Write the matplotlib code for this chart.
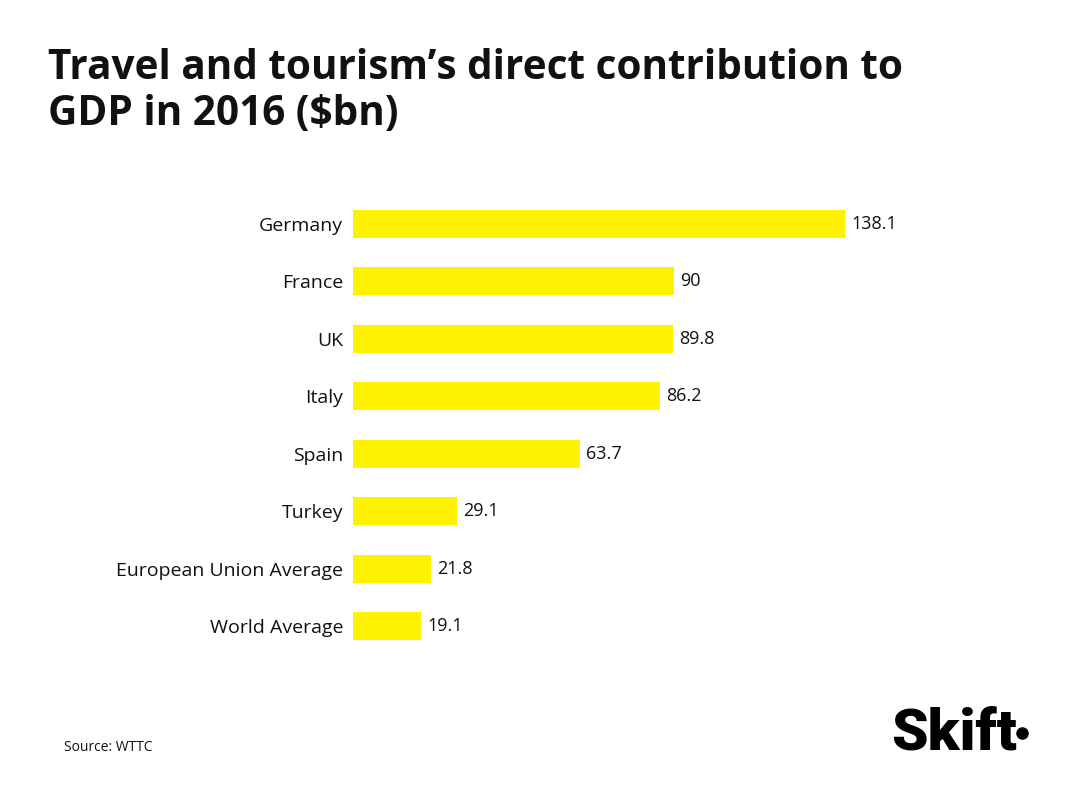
import matplotlib.pyplot as plt
from matplotlib.lines import Line2D

# Data
countries = ['Germany', 'France', 'UK', 'Italy', 'Spain', 'Turkey',
             'European Union Average', 'World Average']
values = [138.1, 90, 89.8, 86.2, 63.7, 29.1, 21.8, 19.1]
value_labels = ['138.1', '90', '89.8', '86.2', '63.7', '29.1', '21.8', '19.1']

plt.rcParams['font.family'] = ['Open Sans', 'DejaVu Sans']

fig = plt.figure(figsize=(10.67, 8), dpi=100)
fig.patch.set_facecolor('white')

ax = fig.add_axes([0.3308, 0.1816, 0.5009, 0.5743])
pos = range(len(countries))
ax.barh(pos, values, height=0.49, color='#FFF200')
ax.set_xlim(0, 150)
ax.set_ylim(7.5, -0.5)
ax.set_yticks(list(pos))
ax.set_yticklabels(countries, fontsize=14, color='#111111', fontweight='medium')
ax.tick_params(axis='y', length=0, pad=7)
ax.set_xticks([])
for s in ax.spines.values():
    s.set_visible(False)

for i, (v, lab) in enumerate(zip(values, value_labels)):
    ax.annotate(lab, (v, i), xytext=(4.5, 0), textcoords='offset points',
                va='center', ha='left', fontsize=13, color='#111111',
                fontweight='medium')

fig.text(0.045, 0.94, "Travel and tourism\u2019s direct contribution to\nGDP in 2016 ($bn)",
         fontsize=29.2, fontweight='bold', color='#111111', va='top', ha='left',
         linespacing=1.15)

fig.text(0.06, 0.066, 'Source: WTTC', fontsize=10, color='#111111', ha='left',
         va='center', fontweight='medium')

# Skift logo
fig.text(0.835, 0.0625, 'Skift', fontsize=42, fontweight='black',
         family=['Roboto', 'DejaVu Sans'], color='#000000', ha='left', va='baseline')
fig.add_artist(Line2D([0.958], [0.084], marker='o', markersize=8, color='black',
                      transform=fig.transFigure))

fig.savefig('out.png', dpi=100)
